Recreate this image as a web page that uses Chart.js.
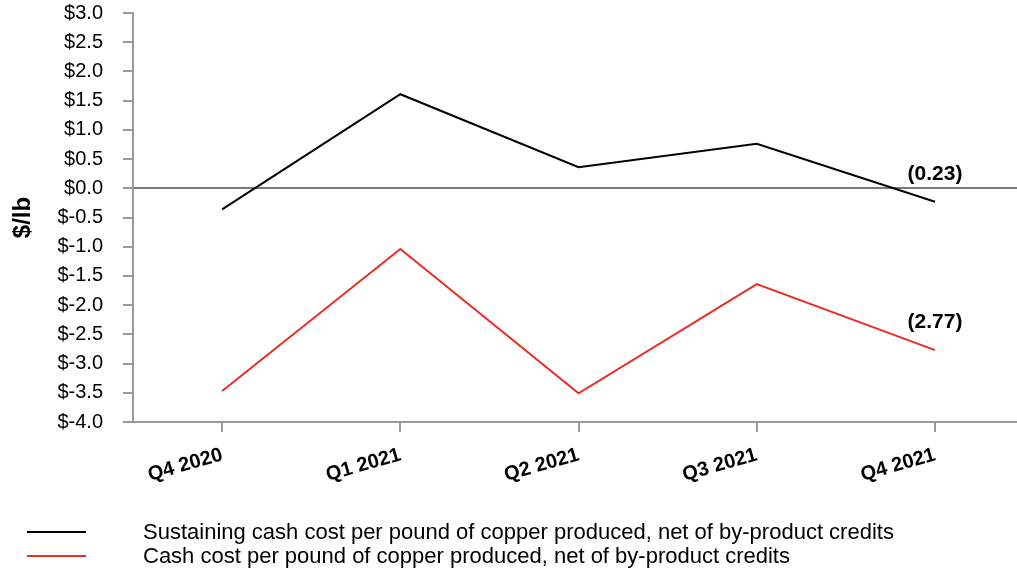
<!DOCTYPE html>
<html>
<head>
<meta charset="utf-8">
<script src="https://cdn.jsdelivr.net/npm/chart.js@4.4.1/dist/chart.umd.min.js"></script>
<style>
  html, body { margin: 0; padding: 0; background: #fff; overflow: hidden; }
  #wrap { width: 1017px; height: 571px; position: relative; }
</style>
</head>
<body>
<div id="wrap"><canvas id="c" width="1017" height="571"></canvas></div>
<script>
const categories = ['Q4 2020', 'Q1 2021', 'Q2 2021', 'Q3 2021', 'Q4 2021'];
const sustainingCost = [-0.36, 1.61, 0.36, 0.76, -0.23];
const cashCost = [-3.47, -1.04, -3.51, -1.64, -2.77];
const seriesNames = [
  'Sustaining cash cost per pound of copper produced, net of by-product credits',
  'Cash cost per pound of copper produced, net of by-product credits'
];
const yTicks = [-4.0, -3.5, -3.0, -2.5, -2.0, -1.5, -1.0, -0.5, 0.0, 0.5, 1.0, 1.5, 2.0, 2.5, 3.0];

const FONT = "'Liberation Sans', Arial, sans-serif";

const toXY = arr => arr.map((v, i) => ({ x: i, y: v }));

const lastLabelPlugin = {
  id: 'lastLabel',
  afterDatasetsDraw(chart) {
    const ctx = chart.ctx;
    ctx.save();
    ctx.font = 'bold 21px ' + FONT;
    ctx.fillStyle = '#000';
    ctx.textAlign = 'center';
    ctx.textBaseline = 'middle';
    chart.data.datasets.forEach((ds, di) => {
      const meta = chart.getDatasetMeta(di);
      const n = ds.data.length - 1;
      const pt = meta.data[n];
      const v = ds.data[n].y;
      const txt = v < 0 ? '(' + Math.abs(v).toFixed(2) + ')' : v.toFixed(2);
      ctx.fillText(txt, pt.x, pt.y - 28);
    });
    ctx.restore();
  }
};

const legendPlugin = {
  id: 'customLegend',
  afterDraw(chart) {
    const ctx = chart.ctx;
    ctx.save();
    ctx.font = '22px ' + FONT;
    ctx.textAlign = 'left';
    ctx.textBaseline = 'middle';
    chart.data.datasets.forEach((ds, i) => {
      const y = 532 + i * 24;
      ctx.strokeStyle = ds.borderColor;
      ctx.lineWidth = 2;
      ctx.beginPath();
      ctx.moveTo(27, y);
      ctx.lineTo(86, y);
      ctx.stroke();
      ctx.fillStyle = '#000';
      ctx.fillText(ds.label, 143, y + 1);
    });
    ctx.restore();
  }
};

new Chart(document.getElementById('c'), {
  type: 'line',
  data: {
    datasets: [
      { label: seriesNames[0], data: toXY(sustainingCost), borderColor: '#000000', borderWidth: 2, pointRadius: 0, tension: 0, fill: false },
      { label: seriesNames[1], data: toXY(cashCost), borderColor: '#ee2a24', borderWidth: 2, pointRadius: 0, tension: 0, fill: false }
    ]
  },
  options: {
    responsive: false,
    animation: false,
    layout: { padding: { top: 13, right: 0, bottom: 79, left: 0 } },
    plugins: { legend: { display: false }, tooltip: { enabled: false } },
    scales: {
      x: {
        type: 'linear',
        min: -0.5,
        max: 4.46,
        afterBuildTicks(scale) { scale.ticks = categories.map((c, i) => ({ value: i })); },
        afterFit(scale) { scale.height = 70; scale.paddingLeft = 0; scale.paddingRight = 0; },
        ticks: {
          callback: (v) => categories[v],
          minRotation: 16,
          maxRotation: 16,
          autoSkip: false,
          padding: 11,
          color: '#000',
          font: { family: FONT, size: 20, weight: 'bold' }
        },
        grid: { drawOnChartArea: false, drawTicks: true, tickLength: 10, tickColor: '#999', lineWidth: 2 },
        border: { color: '#999', width: 2 }
      },
      y: {
        min: -4,
        max: 3,
        afterBuildTicks(scale) { scale.ticks = yTicks.map(v => ({ value: v })); },
        afterFit(scale) { scale.width = 133; scale.paddingTop = 12; scale.paddingBottom = 12; },
        ticks: {
          callback: (v) => '$' + Number(v).toFixed(1),
          padding: 20,
          color: '#000',
          font: { family: FONT, size: 20 }
        },
        title: {
          display: true,
          text: '$/lb',
          color: '#000',
          font: { family: FONT, size: 24, weight: 'bold' },
          padding: { top: 9, bottom: 4 }
        },
        grid: {
          drawOnChartArea: true,
          drawTicks: true,
          tickLength: 10,
          tickColor: '#999',
          lineWidth: 2,
          color: (c) => (c.tick && c.tick.value === 0) ? '#7a7a7a' : 'rgba(0,0,0,0)'
        },
        border: { color: '#999', width: 2 }
      }
    }
  },
  plugins: [lastLabelPlugin, legendPlugin]
});
</script>
</body>
</html>
